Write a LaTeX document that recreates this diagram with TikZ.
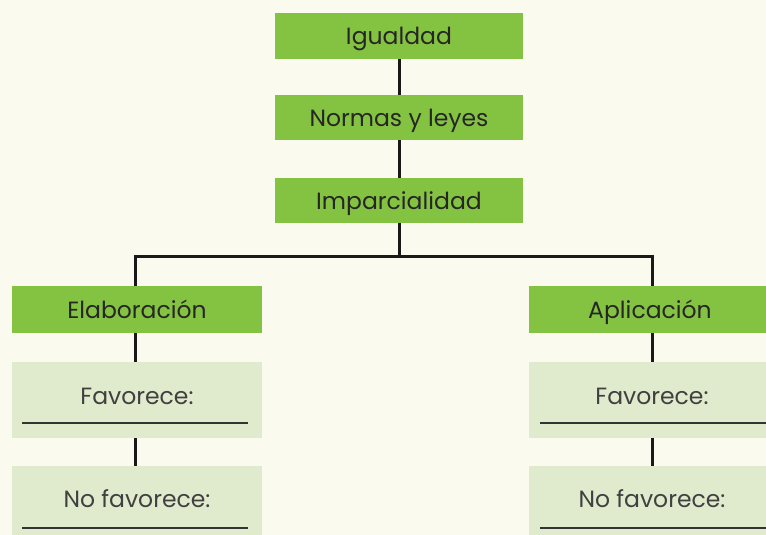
\documentclass[tikz,border=0pt]{standalone}
\usepackage{fontspec}
\setmainfont{Poppins}
\definecolor{bgc}{HTML}{FAFAEE}
\definecolor{darkg}{HTML}{84C341}
\definecolor{lightg}{HTML}{E0EBCD}
\tikzset{
  gbox/.style={fill=darkg, draw=none, rectangle, inner sep=0pt, text height=20pt, text depth=2pt, text=black!85, font=\fontsize{23.5}{28}\selectfont},
  lbox/.style={fill=lightg, draw=none, rectangle, inner sep=0pt},
  ltext/.style={inner sep=0pt, text height=20pt, text depth=2pt, font=\fontsize{23.5}{28}\selectfont, text=black!75},
  conn/.style={line width=3pt, draw=black!90},
  blank/.style={line width=1.4pt, draw=black!80}
}
\begin{document}
\begin{tikzpicture}[x=1pt,y=-1pt]
\useasboundingbox (0,0) rectangle (766,535);
\clip (0,0) rectangle (766,535);
\fill[bgc] (0,0) rectangle (766,535);
% top chain
\node[gbox, minimum width=248pt, minimum height=46pt] (igu) at (399,36) {Igualdad};
\node[gbox, minimum width=248pt, minimum height=45pt] (nor) at (399,117.5) {Normas y leyes};
\node[gbox, minimum width=248pt, minimum height=45pt] (imp) at (399,200.5) {Imparcialidad};
% branches
\node[gbox, minimum width=250pt, minimum height=47pt] (ela) at (137,309.5) {Elaboración};
\node[gbox, minimum width=242pt, minimum height=47pt] (apl) at (650,309.5) {Aplicación};
\node[lbox, minimum width=250pt, minimum height=76pt] (fl) at (137,400) {};
\node[lbox, minimum width=250pt, minimum height=76pt] (nl) at (137,504) {};
\node[lbox, minimum width=242pt, minimum height=76pt] (fr) at (650,400) {};
\node[lbox, minimum width=242pt, minimum height=76pt] (nr) at (650,504) {};
% texts in light boxes
\node[ltext] (tfl) at (137,395) {Favorece:};
\node[ltext] (tnl) at (137,498) {No favorece:};
\node[ltext] (tfr) at (652,395) {Favorece:};
\node[ltext] (tnr) at (652,498) {No favorece:};
% blanks
\coordinate (bfl1) at (22,423); \coordinate (bfl2) at (248,423);
\coordinate (bnl1) at (22,528); \coordinate (bnl2) at (248,528);
\coordinate (bfr1) at (540,423); \coordinate (bfr2) at (766,423);
\coordinate (bnr1) at (540,528); \coordinate (bnr2) at (766,528);
\draw[blank] (bfl1) -- (bfl2);
\draw[blank] (bnl1) -- (bnl2);
\draw[blank] (bfr1) -- (bfr2);
\draw[blank] (bnr1) -- (bnr2);
% connectors
\coordinate (jc) at (399,256);
\coordinate (jl) at (135,256);
\coordinate (jr) at (652,256);
\draw[conn] (igu.south) -- (nor.north);
\draw[conn] (nor.south) -- (imp.north);
\draw[conn] (imp.south) -- (jc);
\draw[conn, line join=miter] (ela.north -| jl) -- (jl) -- (jr) -- (apl.north -| jr);
\draw[conn] (ela.south -| jl) -- (fl.north -| jl);
\draw[conn] (fl.south -| jl) -- (nl.north -| jl);
\draw[conn] (apl.south -| jr) -- (fr.north -| jr);
\draw[conn] (fr.south -| jr) -- (nr.north -| jr);
\end{tikzpicture}
\end{document}
